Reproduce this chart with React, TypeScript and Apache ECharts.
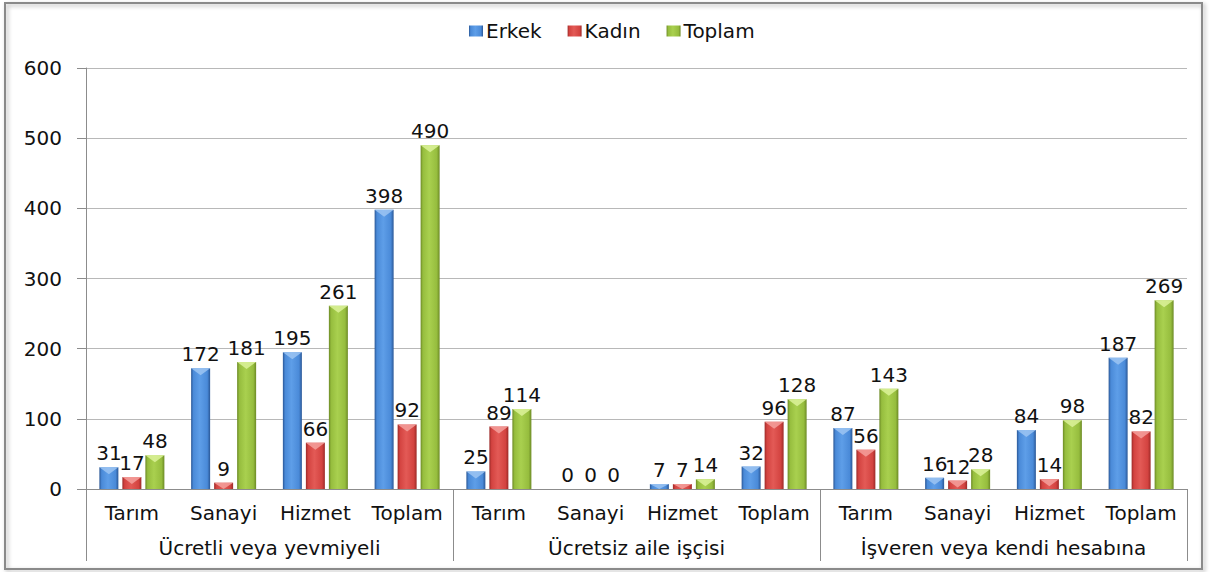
import React, { useEffect, useRef } from "react";
import * as echarts from "echarts";

const groups = ["Ücretli veya yevmiyeli", "Ücretsiz aile işçisi", "İşveren veya kendi hesabına"];
const sectors = ["Tarım", "Sanayi", "Hizmet", "Toplam"];
const categories = [...sectors, ...sectors, ...sectors];
const erkek = [31, 172, 195, 398, 25, 0, 7, 32, 87, 16, 84, 187];
const kadin = [17, 9, 66, 92, 89, 0, 7, 96, 56, 12, 14, 82];
const toplam = [48, 181, 261, 490, 114, 0, 14, 128, 143, 28, 98, 269];
const seriesNames = ["Erkek", "Kadın", "Toplam"];

const FONT = "DejaVu Sans";
const FS = 20;
const BAR_W = 19;
const GAP = 4;

const palettes = [
  { dark: "#2a5796", mid: "#4a8ad8", light: "#5e9ee8", tip: "#9cc4f2" },
  { dark: "#9c2a28", mid: "#d34340", light: "#e35a56", tip: "#f4a09c" },
  { dark: "#6c8a25", mid: "#96bd3e", light: "#a9d04f", tip: "#dcf29a" },
];

function grad(p: { dark: string; mid: string; light: string }) {
  return new echarts.graphic.LinearGradient(0, 0, 1, 0, [
    { offset: 0, color: p.dark },
    { offset: 0.12, color: p.mid },
    { offset: 0.45, color: p.light },
    { offset: 0.85, color: p.mid },
    { offset: 1, color: p.dark },
  ]);
}

export default function App() {
  const ref = useRef<HTMLDivElement>(null);
  useEffect(() => {
    if (!ref.current) return;
    const chart = echarts.init(ref.current, undefined, { renderer: "svg" });
    const values = [erkek, kadin, toplam];
    const barSeries = values.map((vals, s) => ({
      name: seriesNames[s],
      type: "bar",
      data: vals,
      barWidth: BAR_W,
      barGap: `${(GAP / BAR_W) * 100}%`,
      itemStyle: { color: grad(palettes[s]) },
      label: {
        show: true,
        position: "top",
        distance: 4,
        fontFamily: FONT,
        fontSize: FS,
        color: "#111",
      },
      z: 2,
    }));
    const tipSeries = values.map((vals, s) => ({
      type: "custom",
      silent: true,
      z: 3,
      data: vals.map((v, i) => [i, v]),
      renderItem: (params: any, api: any) => {
        const top = api.coord([api.value(0), api.value(1)]);
        const base = api.coord([api.value(0), 0]);
        const cx = top[0] + (s - 1) * (BAR_W + GAP);
        const hgt = base[1] - top[1];
        if (hgt <= 0.5) return null;
        const th = Math.min(7, hgt);
        return {
          type: "polygon",
          shape: {
            points: [
              [cx - BAR_W / 2, top[1]],
              [cx + BAR_W / 2, top[1]],
              [cx, top[1] + th],
            ],
          },
          style: { fill: palettes[s].tip, opacity: 0.85 },
        };
      },
    }));
    chart.setOption({
      animation: false,
      textStyle: { fontFamily: FONT },
      legend: {
        data: seriesNames,
        left: 464,
        top: 16,
        icon: "rect",
        itemWidth: 14,
        itemHeight: 11,
        itemGap: 26,
        textStyle: { fontFamily: FONT, fontSize: 20, color: "#111", padding: [0, 0, 0, -2] },
      },
      grid: { left: 86, right: 28, top: 68, bottom: 83, containLabel: false },
      xAxis: [
        {
          type: "category",
          data: categories,
          position: "bottom",
          axisLine: { lineStyle: { color: "#8c8c8c", width: 1 } },
          axisTick: { show: false },
          axisLabel: { interval: 0, margin: 14, fontFamily: FONT, fontSize: FS, color: "#111" },
        },
        {
          type: "category",
          data: groups,
          position: "bottom",
          offset: 0,
          axisLine: { show: false },
          axisTick: { show: true, length: 72, interval: 0, lineStyle: { color: "#8c8c8c" } },
          axisLabel: { interval: 0, margin: 49, fontFamily: FONT, fontSize: FS, color: "#111" },
          splitLine: { show: false },
        },
      ],
      yAxis: {
        type: "value",
        min: 0,
        max: 600,
        interval: 100,
        axisLine: { show: true, lineStyle: { color: "#8c8c8c" } },
        axisTick: { show: true, length: 9, lineStyle: { color: "#8c8c8c" } },
        axisLabel: { margin: 24, fontFamily: FONT, fontSize: FS, color: "#111" },
        splitLine: { lineStyle: { color: "#b8b8b8" } },
      },
      graphic: [
        {
          type: "rect",
          shape: { x: 5, y: 3, width: 1197, height: 566 },
          style: {
            fill: "none",
            stroke: "#8a8a8a",
            lineWidth: 2,
            shadowBlur: 4,
            shadowOffsetX: 2,
            shadowOffsetY: 2,
            shadowColor: "rgba(0,0,0,0.3)",
          },
          silent: true,
          z: 10,
        },
      ],
      series: [...barSeries, ...tipSeries],
    });
    return () => chart.dispose();
  }, []);
  return (
    <div
      ref={ref}
      style={{ position: "fixed", left: 0, top: 0, width: 1215, height: 572, background: "#fff" }}
    />
  );
}
